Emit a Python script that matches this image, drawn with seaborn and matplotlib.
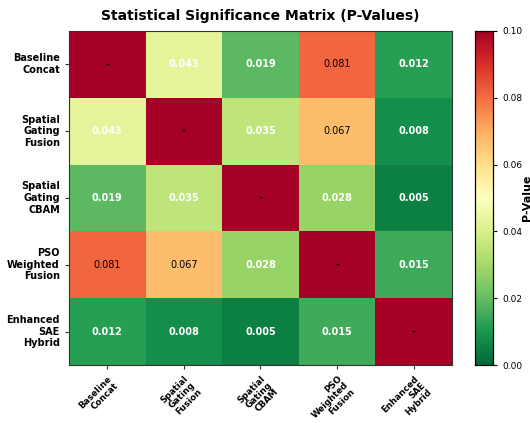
import numpy as np
import pandas as pd
import matplotlib
matplotlib.use("Agg")
import matplotlib.pyplot as plt
import seaborn as sns

# Models compared pairwise
models = ["Baseline\nConcat", "Spatial\nGating\nFusion", "Spatial\nGating\nCBAM",
          "PSO\nWeighted\nFusion", "Enhanced\nSAE\nHybrid"]

# Pairwise p-values (upper triangle, row by row)
p_baseline = [0.043, 0.019, 0.081, 0.012]
p_sg_fusion = [0.035, 0.067, 0.008]
p_sg_cbam = [0.028, 0.005]
p_pso = [0.015]
diag_value = 1.0
alpha = 0.05

n = len(models)
mat = np.full((n, n), diag_value)
upper = [p_baseline, p_sg_fusion, p_sg_cbam, p_pso]
for i, row in enumerate(upper):
    for k, v in enumerate(row):
        j = i + 1 + k
        mat[i, j] = v
        mat[j, i] = v

labels = np.empty((n, n), dtype=object)
for i in range(n):
    for j in range(n):
        labels[i, j] = "-" if i == j else f"{mat[i, j]:.3f}"

df = pd.DataFrame(mat, index=models, columns=models)

fig = plt.figure(figsize=(5.30, 4.23), dpi=100)
ax = fig.add_axes([0.130, 0.137, 0.723, 0.790])
cax = fig.add_axes([0.896, 0.137, 0.034, 0.790])

sns.heatmap(df, ax=ax, cbar_ax=cax, cmap="RdYlGn_r", vmin=0, vmax=0.1,
            annot=labels, fmt="", annot_kws={"fontsize": 7},
            cbar_kws={"label": "P-Value"})

# significant values in bold white, others in black
for t in ax.texts:
    s = t.get_text()
    if s == "-":
        t.set_color("black")
        t.set_fontweight("bold")
    elif float(s) < alpha:
        t.set_color("white")
        t.set_fontweight("bold")
    else:
        t.set_color("black")
        t.set_fontweight("normal")

for sp in ax.spines.values():
    sp.set_visible(True)
    sp.set_color("#333333")
    sp.set_linewidth(0.8)
ax.tick_params(length=3, width=0.8, color="#333333")
ax.set_xticklabels(models, rotation=45, ha="right", rotation_mode="anchor",
                   fontsize=6.3, fontweight="bold", linespacing=1.05)
ax.set_yticklabels(models, rotation=0, fontsize=7, fontweight="bold")
ax.set_xlabel("")
ax.set_ylabel("")
ax.set_title("Statistical Significance Matrix (P-Values)", fontsize=10,
             fontweight="bold", pad=8)

cax.tick_params(labelsize=6.5, length=3, width=0.8)
cax.set_yticks([0, 0.02, 0.04, 0.06, 0.08, 0.10])
cax.set_yticklabels(["0.00", "0.02", "0.04", "0.06", "0.08", "0.10"])
cax.set_ylabel("P-Value", fontsize=8, fontweight="bold", labelpad=0)
for sp in cax.spines.values():
    sp.set_visible(True)
    sp.set_linewidth(0.8)

fig.savefig("out.png", dpi=100)
